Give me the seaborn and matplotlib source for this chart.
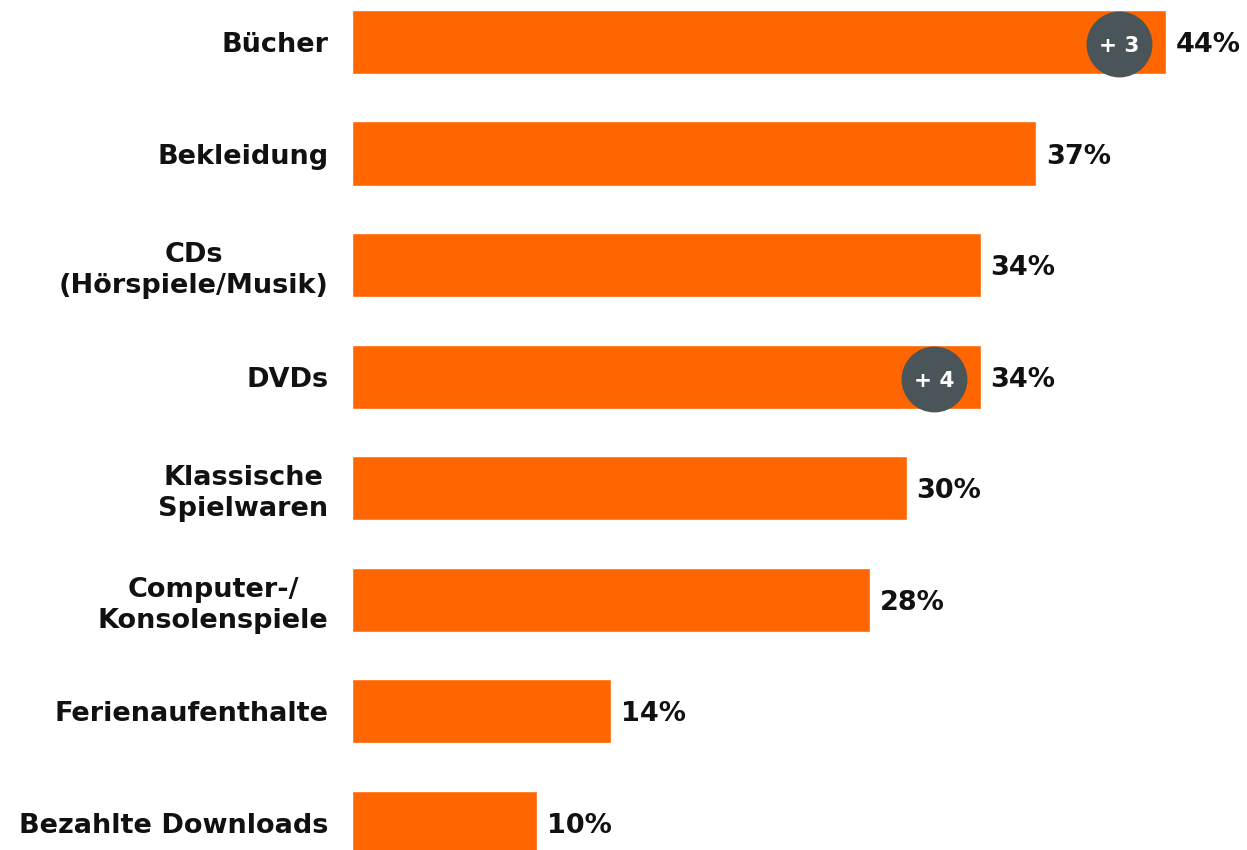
import matplotlib
matplotlib.use("Agg")
import matplotlib.pyplot as plt
import pandas as pd
import seaborn as sns

categories = [
    "Bücher",
    "Bekleidung",
    "CDs\n(Hörspiele/Musik)",
    "DVDs",
    "Klassische\nSpielwaren",
    "Computer-/\nKonsolenspiele",
    "Ferienaufenthalte",
    "Bezahlte Downloads",
]
shares = [44, 37, 34, 34, 30, 28, 14, 10]
badge_categories = ["Bücher", "DVDs"]
badge_texts = ["+ 3", "+ 4"]

BAR_COLOR = "#ff6600"
BADGE_COLOR = "#4a555a"
TEXT_COLOR = "#111111"

sns.set_theme(style="white")
plt.rcParams["font.family"] = ["DejaVu Sans"]

df = pd.DataFrame({"category": categories, "share": shares})

fig = plt.figure(figsize=(12.47, 8.5), dpi=100)
ax = fig.add_axes([352 / 1247, 0, 1 - 352 / 1247, 1])

sns.barplot(data=df, x="share", y="category", orient="h", color=BAR_COLOR,
            saturation=1, width=0.575, ax=ax)

value_texts = ax.bar_label(ax.containers[0], labels=[f"{v}%" for v in shares],
                           padding=7, fontsize=19.5, fontweight="bold",
                           color=TEXT_COLOR)
for t in value_texts:
    t.set_verticalalignment("center_baseline")

# badges: change vs. previous survey
for cat, txt in zip(badge_categories, badge_texts):
    i = categories.index(cat)
    xv = shares[i] - 2.5
    ax.scatter([xv], [i + 0.02], s=2250, color=BADGE_COLOR, zorder=3, linewidths=0)
    ax.text(xv, i + 0.02, txt, ha="center", va="center_baseline", color="white",
            fontsize=15.5, fontweight="bold", zorder=4)

ax.set_xlim(0, 48.4)
ax.set_ylim(7.242, -0.376)
ax.set_xlabel("")
ax.set_ylabel("")
ax.set_xticks([])
ax.tick_params(axis="y", length=0, pad=17)
for lbl in ax.get_yticklabels():
    lbl.set_fontsize(19.5)
    lbl.set_fontweight("bold")
    lbl.set_color(TEXT_COLOR)
    lbl.set_multialignment("center")
    lbl.set_linespacing(1.25)
sns.despine(ax=ax, left=True, bottom=True)

fig.savefig("out.png", dpi=100)
